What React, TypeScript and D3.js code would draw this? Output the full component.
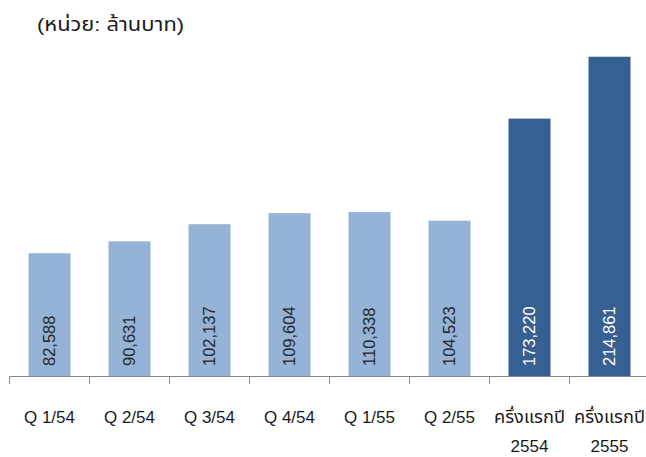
import React from "react";
import * as d3 from "d3";

const categories = ["Q 1/54", "Q 2/54", "Q 3/54", "Q 4/54", "Q 1/55", "Q 2/55", "ครึ่งแรกปี\n2554", "ครึ่งแรกปี\n2555"];
const values = [82588, 90631, 102137, 109604, 110338, 104523, 173220, 214861];
const highlight = [false, false, false, false, false, false, true, true];
const title = "(หน่วย: ล้านบาท)";

const W = 646;
const H = 457;
const fontStack = "Arial, 'Liberation Sans', Tahoma, 'Noto Sans Thai', 'Noto Sans', sans-serif";
const isThai = (s: string) => /[\u0E00-\u0E7F]/.test(s);

export default function App() {
  const x = d3.scaleBand<string>().domain(categories).range([9.5, 649.5]).paddingInner(0.475).paddingOuter(0.2375);
  const step = x.step();
  const y = d3.scaleLinear().domain([0, 250000]).range([376, 4.5]);
  const fmt = d3.format(",");
  const ticks = d3.range(categories.length + 1).map((i) => 9.5 + i * step);

  return (
    <svg width={W} height={H} style={{ position: "absolute", left: 0, top: 0, background: "#fff" }} fontFamily={fontStack}>
      <text x={37} y={31} fontSize={19} fill="#1a1a1a" textLength={147} lengthAdjust="spacingAndGlyphs">{title}</text>
      {categories.map((c, i) => {
        const bx = x(c)!;
        const by = y(values[i]);
        return (
          <g key={c}>
            <rect x={bx} y={by} width={x.bandwidth()} height={y(0) - by} fill={highlight[i] ? "#366092" : "#95B3D7"} />
            <text
              transform={`translate(${bx + x.bandwidth() / 2},${y(0) - 10}) rotate(-90)`}
              dy="0.36em"
              fontSize={16.5}
              fill={highlight[i] ? "#ffffff" : "#262626"}
            >
              {fmt(values[i])}
            </text>
          </g>
        );
      })}
      <line x1={9.5} x2={W} y1={376.5} y2={376.5} stroke="#868686" strokeWidth={1} />
      {ticks.map((t, i) => (
        <line key={i} x1={t} x2={t} y1={376.5} y2={384} stroke="#868686" strokeWidth={1} />
      ))}
      {categories.map((c) => {
        const lines = c.split("\n");
        const cx = x(c)! + x.bandwidth() / 2;
        return (
          <g key={"l" + c}>
            {lines.map((l, j) => (
              <text
                key={j}
                x={cx}
                y={423 + j * 29}
                fontSize={17}
                textAnchor="middle"
                fill="#1a1a1a"
                textLength={isThai(l) ? 71 : undefined}
                lengthAdjust={isThai(l) ? "spacingAndGlyphs" : undefined}
              >
                {l}
              </text>
            ))}
          </g>
        );
      })}
    </svg>
  );
}
